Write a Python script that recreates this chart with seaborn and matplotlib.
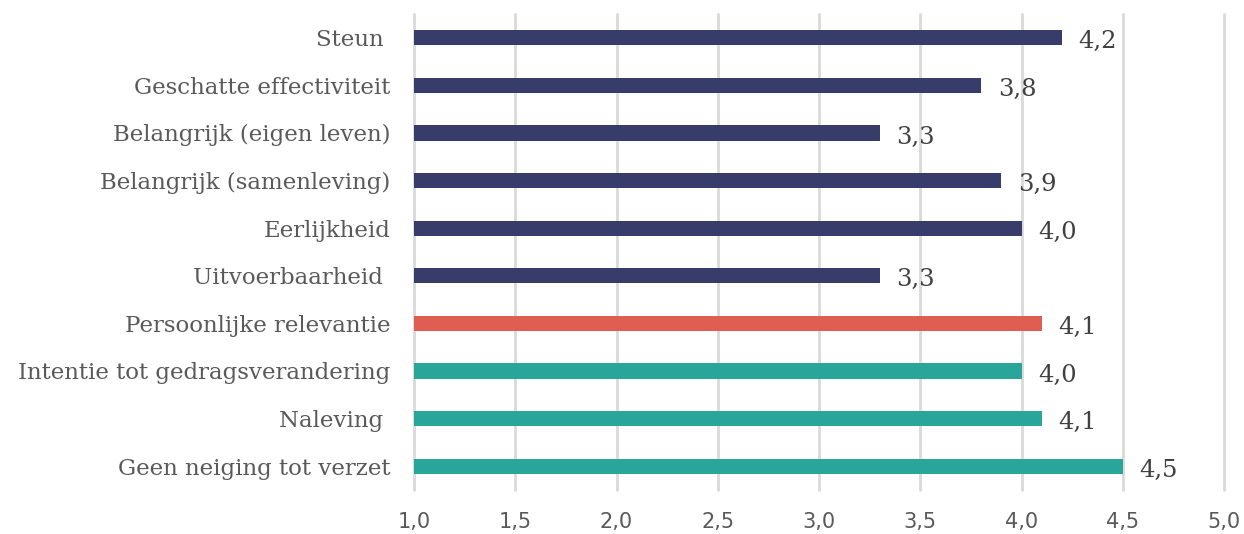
import matplotlib
matplotlib.use("Agg")
import matplotlib.pyplot as plt
import seaborn as sns
import pandas as pd

categories = ["Steun ", "Geschatte effectiviteit", "Belangrijk (eigen leven)",
              "Belangrijk (samenleving)", "Eerlijkheid", "Uitvoerbaarheid ",
              "Persoonlijke relevantie", "Intentie tot gedragsverandering",
              "Naleving ", "Geen neiging tot verzet"]
values = [4.2, 3.8, 3.3, 3.9, 4.0, 3.3, 4.1, 4.0, 4.1, 4.5]
groups = ["a", "a", "a", "a", "a", "a", "b", "c", "c", "c"]
palette = {"a": "#383C6A", "b": "#E05D51", "c": "#29A59A"}
xticks = [1.0, 1.5, 2.0, 2.5, 3.0, 3.5, 4.0, 4.5, 5.0]

df = pd.DataFrame({"cat": categories, "val": values, "grp": groups})

sns.set_theme(style="white")
plt.rcParams['font.family'] = ['DejaVu Serif']

fig = plt.figure(figsize=(12.44, 5.34), dpi=100)
ax = fig.add_axes([0.3328, 0.0824, 0.6512, 0.8916])

sns.barplot(data=df, y="cat", x="val", hue="grp", palette=palette, dodge=False,
            width=0.32, legend=False, ax=ax, orient="h", saturation=1,
            linewidth=0)
# bars start at 1.0 (axis min)
for p in ax.patches:
    w = p.get_width()
    if w > 0:
        p.set_x(1.0)
        p.set_width(w - 1.0)

ax.set_xlim(1.0, 5.0)
ax.set_ylim(len(categories) - 0.5, -0.5)
ax.set_xticks(xticks)
ax.set_xticklabels([f"{t:.1f}".replace(".", ",") for t in xticks],
                   fontsize=15, color="#595959", family="DejaVu Sans")
ax.tick_params(axis="x", length=0, pad=16)
ax.tick_params(axis="y", length=0, pad=17)
for lab in ax.get_yticklabels():
    lab.set_fontsize(16.5)
    lab.set_color("#595959")
ax.set_xlabel("")
ax.set_ylabel("")
ax.grid(axis="x", color="#D9D9D9", linewidth=2)
for gl in ax.get_xgridlines():
    gl.set_clip_on(False)
ax.set_axisbelow(True)
for s in ax.spines.values():
    s.set_visible(False)

for i, v in enumerate(values):
    ax.annotate(f"{v:.1f}".replace(".", ","), xy=(v, i), xytext=(12, -3),
                textcoords="offset points", va="center", ha="left",
                fontsize=17.5, color="#404040")

fig.savefig("out.png", dpi=100)
